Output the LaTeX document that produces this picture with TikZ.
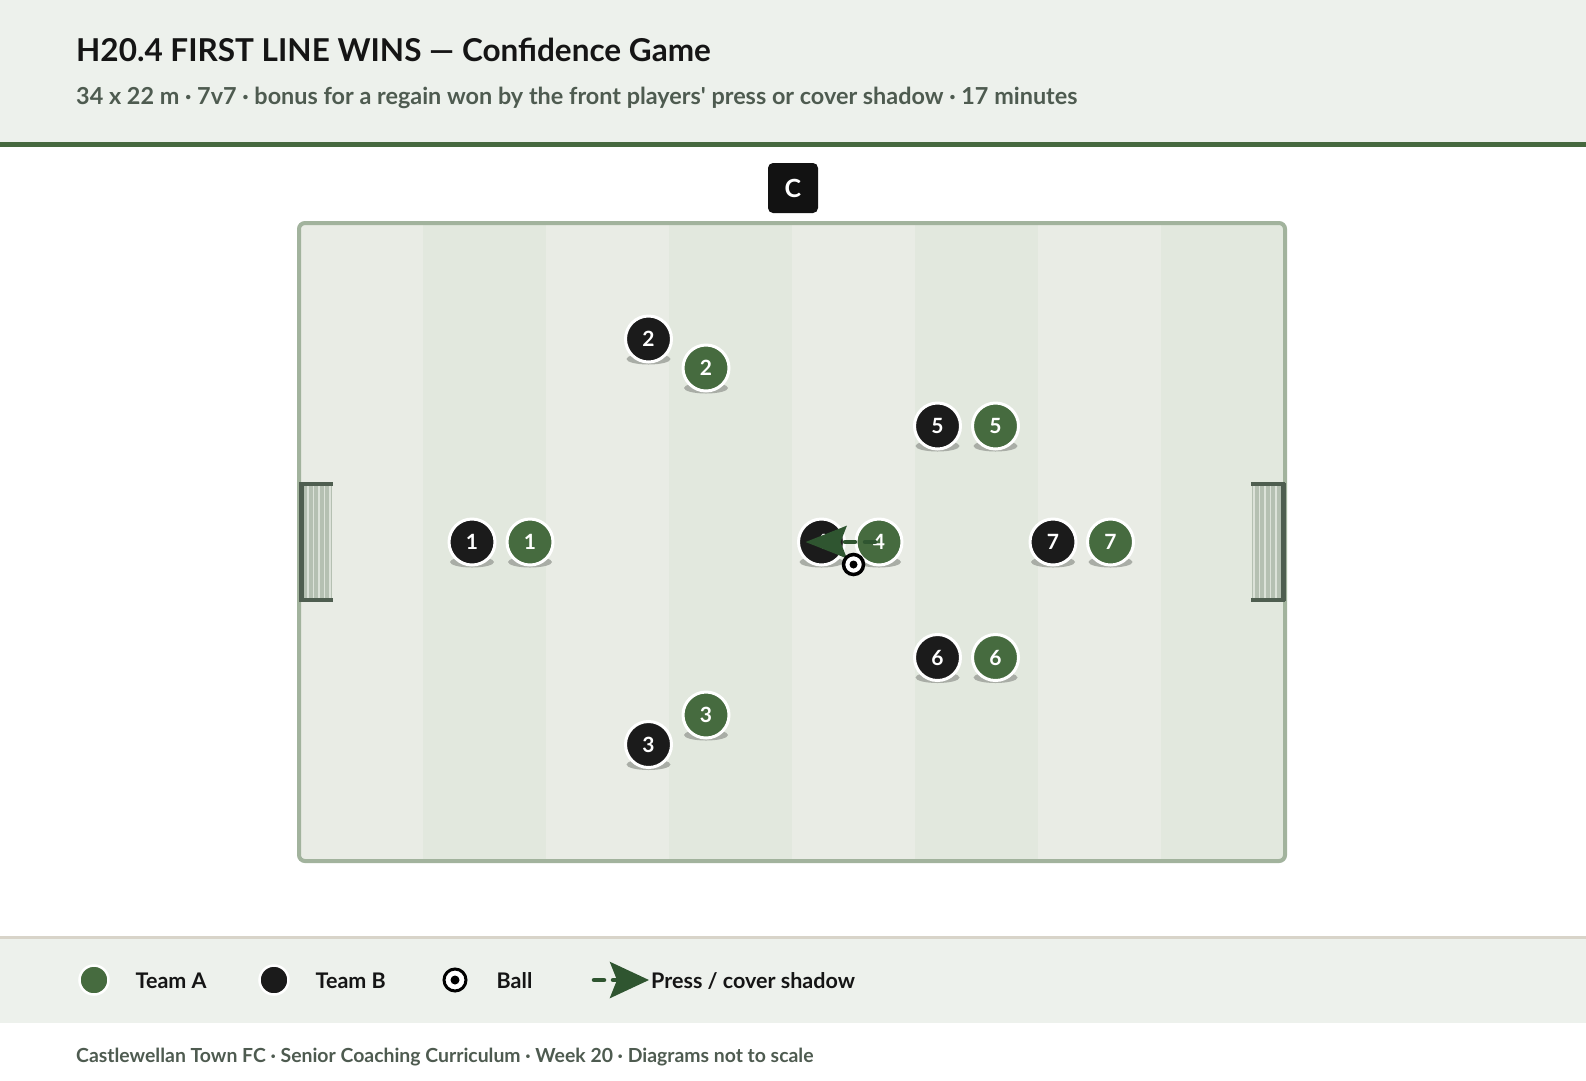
\documentclass[tikz,border=0pt]{standalone}
\usepackage{fontspec}
\setmainfont{Lato}
\newfontfamily\plainlato{Lato}
\usetikzlibrary{arrows.meta}
\definecolor{hdrbg}{HTML}{EDF1EC}
\definecolor{hdrline}{HTML}{46693F}
\definecolor{subc}{HTML}{4E5B50}
\definecolor{stripeL}{HTML}{E9ECE5}
\definecolor{stripeD}{HTML}{E2E8DE}
\definecolor{fieldb}{HTML}{A2B39D}
\definecolor{netc}{HTML}{B5C0B2}
\definecolor{netl}{HTML}{DCE2D9}
\definecolor{postc}{HTML}{4F5E50}
\definecolor{teamA}{HTML}{466B3F}
\definecolor{teamB}{HTML}{1B1B1B}
\definecolor{shadowc}{HTML}{A9ADA6}
\definecolor{arrowc}{HTML}{2F5530}
\definecolor{legline}{HTML}{D8D4C9}
\definecolor{inkc}{HTML}{151515}
\tikzset{
  player/.style={circle, draw=white, line width=3pt, minimum size=46pt, inner sep=0pt,
    text=white, font=\bfseries\fontsize{21}{21}\selectfont},
  pA/.style={player, fill=teamA},
  pB/.style={player, fill=teamB},
  ballnode/.style={circle, fill=white, draw=black, line width=3.5pt, minimum size=20pt, inner sep=0pt},
  legdot/.style={circle, draw=white, line width=2.5pt, minimum size=29pt, inner sep=0pt},
  legtext/.style={anchor=base west, inner sep=0pt, text=inkc, font=\bfseries\fontsize{21.5}{21.5}\selectfont},
  pressarrow/.style={arrowc, line width=4.5pt, line cap=round, dash pattern=on 10pt off 10pt, dash phase=14pt,
    -{Stealth[length=41pt, width=32pt, inset=6pt, line cap=butt]}},
}
\newcommand{\plshadow}[2]{\fill[shadowc] (#1,#2+20) ellipse [x radius=22pt, y radius=5.5pt];}
\begin{document}
\begin{tikzpicture}[x=1pt,y=-1pt]
\useasboundingbox (0,0) rectangle (1586,1080);
\fill[white] (0,0) rectangle (1586,1080);
% header
\fill[hdrbg] (0,0) rectangle (1586,143);
\fill[hdrline] (0,142) rectangle (1586,147);
\node[anchor=base west, inner sep=0pt, text=inkc, font=\bfseries\fontsize{31.5}{31.5}\selectfont] (title) at (76,61)
  {H20.4 FIRST LINE WINS — Confidence Game};
\node[anchor=base west, inner sep=0pt, text=subc, font=\plainlato\bfseries\fontsize{23.4}{23.4}\selectfont] (subtitle) at (76,104)
  {34 x 22 m · 7v7 · bonus for a regain won by the front players' press or cover shadow · 17 minutes};
% coach
\node[fill=black!93, rounded corners=5pt, minimum width=50pt, minimum height=50pt, inner sep=0pt,
  text=white, font=\bfseries\fontsize{25}{25}\selectfont] (coach) at (793,188) {C};
% field
\begin{scope}
  \clip[rounded corners=6pt] (299,223) rectangle (1285,861);
  \foreach \i in {0,2,4,6} {
    \fill[stripeL] (300+123*\i,220) rectangle ++(123,645);
    \fill[stripeD] (300+123*\i+123,220) rectangle ++(123,645);
  }
\end{scope}
\draw[fieldb, line width=4pt, rounded corners=6pt] (299,223) rectangle (1285,861);
% left goal
\fill[netc] (303,485) rectangle (332,599);
\foreach \x in {308,313.5,319,324.5,330} \draw[netl, line width=1.2pt] (\x,486) -- (\x,598);
\draw[postc, line width=5pt] (301,483) -- (301,601);
\draw[postc, line width=4pt] (299,484) -- (333,484);
\draw[postc, line width=4pt] (299,600) -- (333,600);
% right goal
\fill[netc] (1252,485) rectangle (1281,599);
\foreach \x in {1254,1259.5,1265,1270.5,1276} \draw[netl, line width=1.2pt] (\x,486) -- (\x,598);
\draw[postc, line width=5pt] (1283,483) -- (1283,601);
\draw[postc, line width=4pt] (1251,484) -- (1285,484);
\draw[postc, line width=4pt] (1251,600) -- (1285,600);
% players
\plshadow{472}{542}   \node[pB] (b1) at (472,542) {1};
\plshadow{530}{542}   \node[pA] (a1) at (530,542) {1};
\plshadow{648.5}{339} \node[pB] (b2) at (648.5,339) {2};
\plshadow{706}{368}   \node[pA] (a2) at (706,368) {2};
\plshadow{937.5}{426} \node[pB] (b5) at (937.5,426) {5};
\plshadow{995.5}{426} \node[pA] (a5) at (995.5,426) {5};
\plshadow{821.5}{542} \node[pB] (b4) at (821.5,542) {4};
\plshadow{879}{542}   \node[pA] (a4) at (879,542) {4};
\plshadow{1053}{542}  \node[pB] (b7) at (1053,542) {7};
\plshadow{1110.5}{542}\node[pA] (a7) at (1110.5,542) {7};
\plshadow{937.5}{657.5} \node[pB] (b6) at (937.5,657.5) {6};
\plshadow{995.5}{657.5} \node[pA] (a6) at (995.5,657.5) {6};
\plshadow{706}{715}   \node[pA] (a3) at (706,715) {3};
\plshadow{648.5}{744.5} \node[pB] (b3) at (648.5,744.5) {3};
% press arrow
\coordinate (b4tip) at ([xshift=-16pt]b4.center);
\draw[pressarrow] ([xshift=2pt]a4.center) -- (b4tip);
% ball
\node[ballnode] (ball) at (853.5,564.5) {};
\fill[black] (ball.center) circle (4pt);
% legend
\fill[legline] (0,936) rectangle (1586,939);
\fill[hdrbg] (0,939) rectangle (1586,1023);
\node[legdot, fill=teamA] (lgA) at (94,980) {};
\node[legtext] (lgAt) at (135.5,988.5) {Team A};
\node[legdot, fill=teamB] (lgB) at (274,980) {};
\node[legtext] (lgBt) at (315.5,988.5) {Team B};
\node[ballnode, line width=3pt, minimum size=22pt] (lgball) at (455,980) {};
\fill[black] (lgball.center) circle (4.5pt);
\node[legtext] (lgballt) at (496.5,988.5) {Ball};
\coordinate (lgarrS) at (594,980);
\coordinate (lgarrE) at (649,980);
\draw[pressarrow, dash pattern=on 10pt off 9pt, dash phase=0pt,
  -{Stealth[length=39pt, width=36pt, inset=7pt, line cap=butt]}] (lgarrS) -- (lgarrE);
\node[legtext] (lgarrt) at (651,988.5) {Press / cover shadow};
% footer
\node[anchor=base west, inner sep=0pt, text=subc, font=\bfseries\fontsize{19.4}{19.4}\selectfont] (footer) at (76,1062)
  {Castlewellan Town FC · Senior Coaching Curriculum · Week 20 · Diagrams not to scale};
\end{tikzpicture}
\end{document}
